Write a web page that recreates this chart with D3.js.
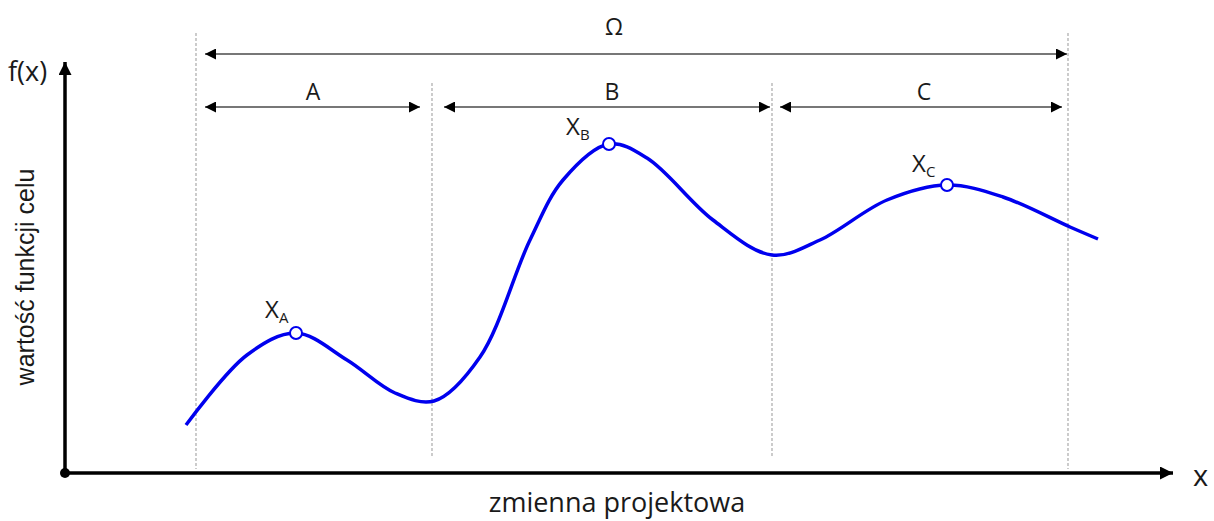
<!DOCTYPE html>
<html>
<head>
<meta charset="utf-8">
<script src="https://cdn.jsdelivr.net/npm/d3@7"></script>
<style>
  body { margin: 0; background: #fff; }
  svg text { font-family: "Open Sans", "Noto Sans", sans-serif; fill: #1a1a1a; }
</style>
</head>
<body>
<svg width="1214" height="521"></svg>
<script>
// curve points (x = design variable, y = objective value), arbitrary units
const curveX = [121, 182, 231, 282, 330, 369, 415, 465, 498, 544, 582, 648, 707, 755, 822, 882, 938, 1005, 1033];
const curveY = [48, 118, 140, 113, 80, 72, 116, 233, 293, 329, 315, 253, 218, 233, 273, 288, 276, 246, 234];

// optimum points
const optNames = ["A", "B", "C"];
const optX = [231, 544, 882];
const optY = [140, 329, 288];

// region boundaries
const bounds = [131, 367, 707, 1003];
const regionNames = ["A", "B", "C"];

const xScale = d3.scaleLinear().domain([0, 1107]).range([65, 1172]);
const yScale = d3.scaleLinear().domain([0, 410]).range([473, 63]);

const svg = d3.select("svg");
const defs = svg.append("defs");
defs.append("marker").attr("id", "ah").attr("viewBox", "0 0 10 10")
  .attr("refX", 10).attr("refY", 5).attr("markerWidth", 13).attr("markerHeight", 11)
  .attr("markerUnits", "userSpaceOnUse").attr("orient", "auto-start-reverse")
  .append("path").attr("d", "M0,0L10,5L0,10Z").attr("fill", "#000");
defs.append("marker").attr("id", "axh").attr("viewBox", "0 0 10 10")
  .attr("refX", 10).attr("refY", 5).attr("markerWidth", 16).attr("markerHeight", 13)
  .attr("markerUnits", "userSpaceOnUse").attr("orient", "auto")
  .append("path").attr("d", "M0,0L10,5L0,10Z").attr("fill", "#000");

//Dashed boundaries
svg.selectAll(".bound").data(bounds).enter().append("line")
  .attr("x1", d => xScale(d)).attr("x2", d => xScale(d))
  .attr("y1", (d, i) => (i === 0 || i === 3) ? 33 : 83)
  .attr("y2", (d, i) => (i === 0 || i === 3) ? 469 : 457)
  .attr("stroke", "#aaa").attr("stroke-width", 1.2).attr("stroke-dasharray", "3,2");

//Omega arrow
svg.append("line")
  .attr("x1", xScale(bounds[0]) + 9).attr("x2", xScale(bounds[3]) - 1)
  .attr("y1", 54).attr("y2", 54)
  .attr("stroke", "#777").attr("stroke-width", 2)
  .attr("marker-start", "url(#ah)").attr("marker-end", "url(#ah)");
svg.append("text").attr("x", 614).attr("y", 35)
  .attr("text-anchor", "middle").attr("font-size", 23).text("Ω");

//Region arrows
const regStart = [xScale(bounds[0]) + 9, xScale(bounds[1]) + 12, xScale(bounds[2]) + 8];
const regEnd = [xScale(bounds[1]) - 12, xScale(bounds[2]) - 2, xScale(bounds[3]) - 6];
const regLbl = [313, 612, 924];
regionNames.forEach((n, i) => {
  svg.append("line").attr("x1", regStart[i]).attr("x2", regEnd[i])
    .attr("y1", 107).attr("y2", 107)
    .attr("stroke", "#777").attr("stroke-width", 2)
    .attr("marker-start", "url(#ah)").attr("marker-end", "url(#ah)");
  svg.append("text").attr("x", regLbl[i]).attr("y", 100)
    .attr("text-anchor", "middle").attr("font-size", 23).text(n);
});

//Axes
svg.append("line").attr("x1", 65).attr("x2", 65).attr("y1", 473).attr("y2", 62)
  .attr("stroke", "#000").attr("stroke-width", 3.5).attr("marker-end", "url(#axh)");
svg.append("line").attr("x1", 65).attr("x2", 1173).attr("y1", 473).attr("y2", 473)
  .attr("stroke", "#000").attr("stroke-width", 3.5).attr("marker-end", "url(#axh)");
svg.append("circle").attr("cx", 65).attr("cy", 473).attr("r", 5).attr("fill", "#000");

//Curve
const line = d3.line().x(d => xScale(d[0])).y(d => yScale(d[1])).curve(d3.curveCatmullRom.alpha(0.5));
svg.append("path").datum(curveX.map((v, i) => [v, curveY[i]]))
  .attr("d", line).attr("fill", "none").attr("stroke", "#0000ee").attr("stroke-width", 3.5)
  .attr("stroke-linejoin", "round");

//Optimum points
svg.selectAll(".opt").data(optX).enter().append("circle")
  .attr("cx", d => xScale(d)).attr("cy", (d, i) => yScale(optY[i])).attr("r", 6)
  .attr("fill", "#fff").attr("stroke", "#0000ee").attr("stroke-width", 2);
const lblDx = [-31, -43, -35];
const lblDy = [-15, -9, -13];
optNames.forEach((n, i) => {
  const t = svg.append("text").attr("x", xScale(optX[i]) + lblDx[i]).attr("y", yScale(optY[i]) + lblDy[i])
    .attr("font-size", 24);
  t.append("tspan").text("X");
  t.append("tspan").attr("font-size", 15).attr("dy", 5).text(n);
});

//Labels
svg.append("text").attr("x", 8).attr("y", 81).attr("font-size", 27).text("f(x)");
svg.append("text").attr("x", 1193).attr("y", 486).attr("font-size", 29).text("x");
svg.append("text").attr("x", 617).attr("y", 512).attr("text-anchor", "middle")
  .attr("font-size", 27).text("zmienna projektowa");
svg.append("text").attr("transform", "translate(34,277) rotate(-90)")
  .attr("text-anchor", "middle").attr("font-size", 25)
  .style("font-family", "'Liberation Sans', Arial, sans-serif").text("wartość funkcji celu");
</script>
</body>
</html>
